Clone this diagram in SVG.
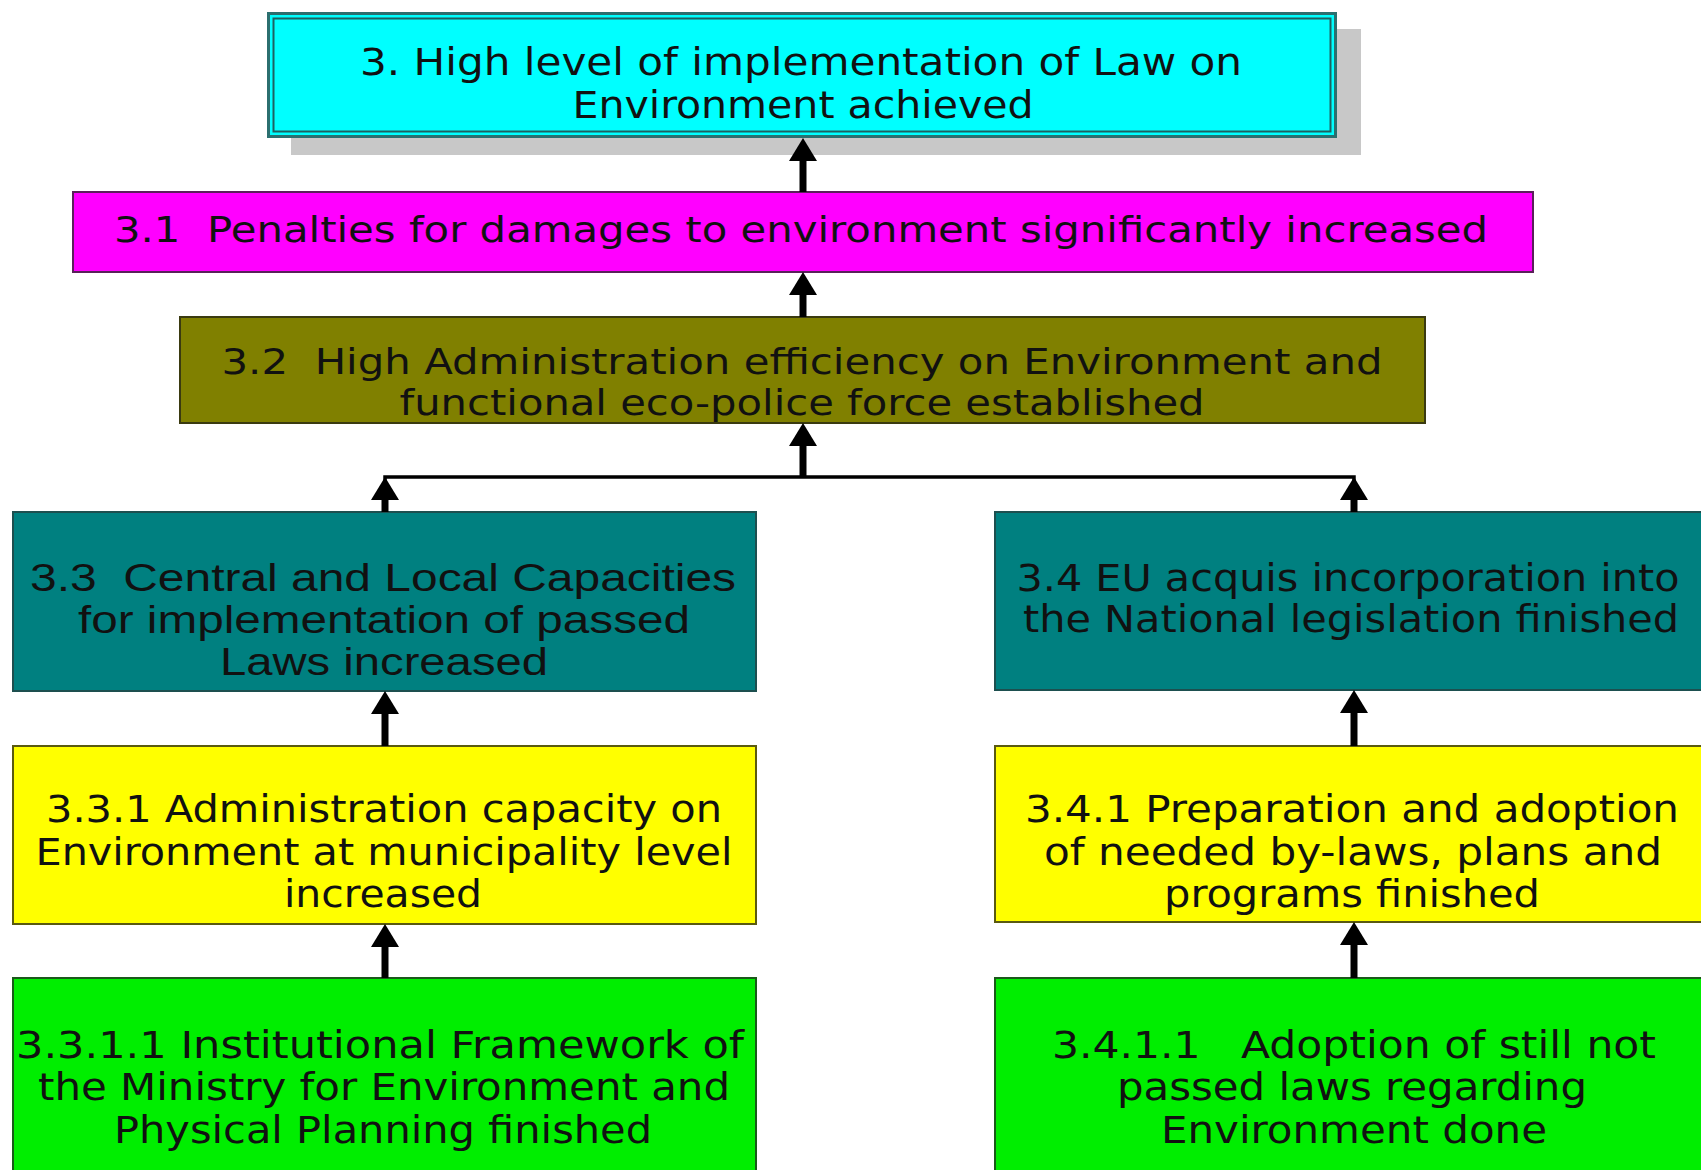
<svg xmlns="http://www.w3.org/2000/svg" width="1701" height="1170" viewBox="0 0 1701 1170">
<defs>
<style>
.box{stroke-width:2}
.t{fill:#111;text-anchor:middle}
.verd{font-family:"DejaVu Sans",Verdana,sans-serif;font-size:35px}
.tah{font-family:"DejaVu Sans Condensed","DejaVu Sans",sans-serif;font-size:37px}
.ari{font-family:"Liberation Sans",Arial,sans-serif;font-size:38px}
.nar{font-family:"DejaVu Sans Condensed","DejaVu Sans",sans-serif;font-size:37px}
.conn{stroke:#000;stroke-width:7;fill:none}
.hline{stroke:#000;stroke-width:3.5;fill:none}
</style>
<marker id="ah" viewBox="0 0 23 28" refX="0" refY="14" markerWidth="23" markerHeight="28" markerUnits="userSpaceOnUse" orient="auto">
<path d="M0,0 L23,14 L0,28 z" fill="#000"/>
</marker>
</defs>
<rect width="1701" height="1170" fill="#fff"/>

<g id="n3">
<rect x="291" y="29" width="1070" height="126" fill="#c8c8c8"/>
<rect x="268.5" y="13.5" width="1067" height="123" fill="#00ffff" stroke="#2b6f6f" stroke-width="3"/>
<rect x="273.5" y="18.5" width="1057" height="113" fill="none" stroke="#1f6060" stroke-width="2"/>
<text class="t nar" x="801" y="75" textLength="882" lengthAdjust="spacingAndGlyphs">3. High level of implementation of Law on</text>
<text class="t nar" x="803" y="118" textLength="461" lengthAdjust="spacingAndGlyphs">Environment achieved</text>
</g>

<g id="n31">
<rect class="box" x="73" y="192" width="1460" height="80" fill="#ff00ff" stroke="#5a205a"/>
<text class="t verd" x="801" y="242" textLength="1374" lengthAdjust="spacingAndGlyphs" xml:space="preserve">3.1  Penalties for damages to environment significantly increased</text>
</g>

<g id="n32">
<rect class="box" x="180" y="317" width="1245" height="106" fill="#808000" stroke="#3a3a10"/>
<text class="t verd" x="802" y="374" textLength="1161" lengthAdjust="spacingAndGlyphs" xml:space="preserve">3.2  High Administration efficiency on Environment and</text>
<text class="t verd" x="802" y="415" textLength="805" lengthAdjust="spacingAndGlyphs">functional eco-police force established</text>
</g>

<g id="n33">
<rect class="box" x="13" y="512" width="743" height="179" fill="#008080" stroke="#1d4f4f"/>
<text class="t ari" x="383" y="591" textLength="706" lengthAdjust="spacingAndGlyphs" xml:space="preserve">3.3  Central and Local Capacities</text>
<text class="t ari" x="384" y="633" textLength="612" lengthAdjust="spacingAndGlyphs">for implementation of passed</text>
<text class="t ari" x="384" y="675" textLength="328" lengthAdjust="spacingAndGlyphs">Laws increased</text>
</g>

<g id="n34">
<rect class="box" x="995" y="512" width="720" height="178" fill="#008080" stroke="#1d4f4f"/>
<text class="t tah" x="1348" y="591" textLength="663" lengthAdjust="spacingAndGlyphs">3.4 EU acquis incorporation into</text>
<text class="t tah" x="1351" y="632" textLength="656" lengthAdjust="spacingAndGlyphs">the National legislation finished</text>
</g>

<g id="n331">
<rect class="box" x="13" y="746" width="743" height="178" fill="#ffff00" stroke="#5a5a10"/>
<text class="t tah" x="384" y="822" textLength="676" lengthAdjust="spacingAndGlyphs">3.3.1 Administration capacity on</text>
<text class="t tah" x="384" y="865" textLength="697" lengthAdjust="spacingAndGlyphs">Environment at municipality level</text>
<text class="t tah" x="383" y="907" textLength="198" lengthAdjust="spacingAndGlyphs">increased</text>
</g>

<g id="n341">
<rect class="box" x="995" y="746" width="720" height="176" fill="#ffff00" stroke="#5a5a10"/>
<text class="t tah" x="1352" y="822" textLength="654" lengthAdjust="spacingAndGlyphs">3.4.1 Preparation and adoption</text>
<text class="t tah" x="1353" y="865" textLength="618" lengthAdjust="spacingAndGlyphs">of needed by-laws, plans and</text>
<text class="t tah" x="1352" y="907" textLength="376" lengthAdjust="spacingAndGlyphs">programs finished</text>
</g>

<g id="n3311">
<rect class="box" x="13" y="978" width="743" height="200" fill="#00ee00" stroke="#1a5a1a"/>
<text class="t tah" x="380" y="1058" textLength="728" lengthAdjust="spacingAndGlyphs">3.3.1.1 Institutional Framework of</text>
<text class="t tah" x="384" y="1100" textLength="692" lengthAdjust="spacingAndGlyphs">the Ministry for Environment and</text>
<text class="t tah" x="383" y="1143" textLength="538" lengthAdjust="spacingAndGlyphs">Physical Planning finished</text>
</g>

<g id="n3411">
<rect class="box" x="995" y="978" width="720" height="200" fill="#00ee00" stroke="#1a5a1a"/>
<text class="t tah" x="1354" y="1058" textLength="604" lengthAdjust="spacingAndGlyphs" xml:space="preserve">3.4.1.1   Adoption of still not</text>
<text class="t tah" x="1352" y="1100" textLength="470" lengthAdjust="spacingAndGlyphs">passed laws regarding</text>
<text class="t tah" x="1354" y="1143" textLength="386" lengthAdjust="spacingAndGlyphs">Environment done</text>
</g>

<g id="connectors">
<line class="conn" x1="803" y1="192" x2="803" y2="161" marker-end="url(#ah)"/>
<line class="conn" x1="803" y1="317" x2="803" y2="295" marker-end="url(#ah)"/>
<line class="conn" x1="803" y1="477" x2="803" y2="446" marker-end="url(#ah)"/>
<polyline class="hline" points="385,500 385,477 1354,477 1354,500"/>
<line class="conn" x1="385" y1="512" x2="385" y2="500" marker-end="url(#ah)"/>
<line class="conn" x1="1354" y1="512" x2="1354" y2="500" marker-end="url(#ah)"/>
<line class="conn" x1="385" y1="746" x2="385" y2="714" marker-end="url(#ah)"/>
<line class="conn" x1="1354" y1="746" x2="1354" y2="713" marker-end="url(#ah)"/>
<line class="conn" x1="385" y1="978" x2="385" y2="947" marker-end="url(#ah)"/>
<line class="conn" x1="1354" y1="978" x2="1354" y2="945" marker-end="url(#ah)"/>
</g>
</svg>
